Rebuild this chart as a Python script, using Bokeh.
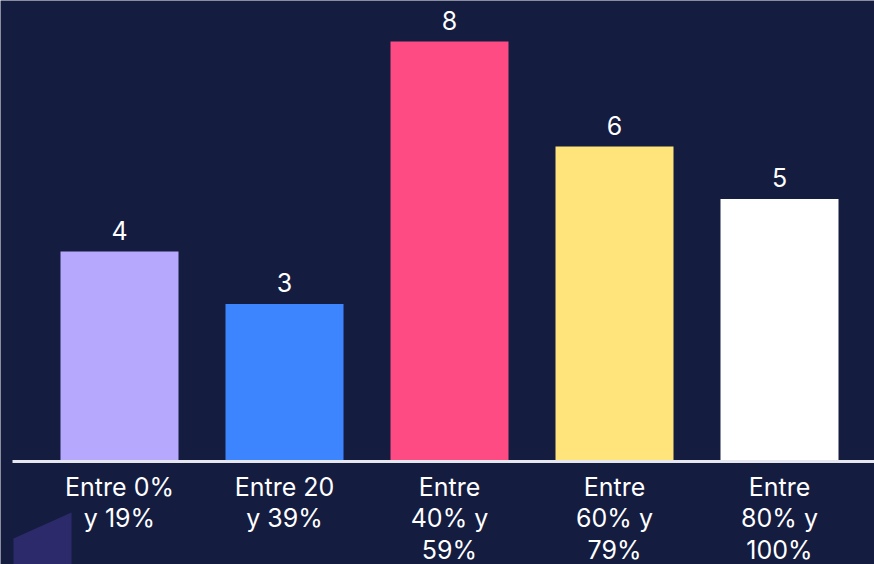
from bokeh.plotting import figure
from bokeh.models import ColumnDataSource, Range1d
from bokeh.core.properties import value
from bokeh.embed import file_html
from bokeh.resources import INLINE

categories = ["Entre 0%\ny 19%", "Entre 20\ny 39%", "Entre\n40% y\n59%", "Entre\n60% y\n79%", "Entre\n80% y\n100%"]
values = [4, 3, 8, 6, 5]
colors = ["#b5a8fd", "#3c85fe", "#fe4b84", "#fee47a", "#ffffff"]

W, H = 874, 564
BG = "#141c40"

# pixel geometry -> data ranges
x0_px, step_px = 119, 165
base_px, unit_px = 461, 52.5

xs = list(range(len(values)))
p = figure(width=W, height=H, output_backend="svg", toolbar_location=None,
           x_range=Range1d(-x0_px / step_px, (W - x0_px) / step_px),
           y_range=Range1d(-(H - base_px) / unit_px, base_px / unit_px),
           min_border=0, background_fill_color=BG, border_fill_color=BG)
p.axis.visible = False
p.grid.visible = False
p.outline_line_color = None

src = ColumnDataSource(dict(x=xs, top=values, color=colors, cat=categories,
                            lab=[str(v) for v in values]))

# decorative shape bottom-left
px = lambda v: (v - x0_px) / step_px
py = lambda v: (base_px - v) / unit_px
p.patch([px(13), px(71), px(71), px(13)], [py(538), py(512), py(570), py(570)],
        fill_color="#2d2a6c", line_color=None)

p.vbar(x="x", top="top", bottom=0, width=118 / step_px, fill_color="color",
       line_color=None, source=src)

p.segment(x0=[px(12)], y0=[0], x1=[px(880)], y1=[0], line_color="#e6e6ee", line_width=3)

p.text(x="x", y="top", text="lab", source=src, text_align="center",
       text_baseline="bottom", y_offset=-12, text_color="#ffffff",
       text_font=value("Inter"), text_font_size="25px")

p.text(x="x", y=0, text="cat", source=src, text_align="center",
       text_baseline="top", y_offset=10, text_color="#ffffff",
       text_font=value("Inter"), text_font_size="25px", text_line_height=1.05)

open("out.html", "w").write(file_html(p, INLINE))
